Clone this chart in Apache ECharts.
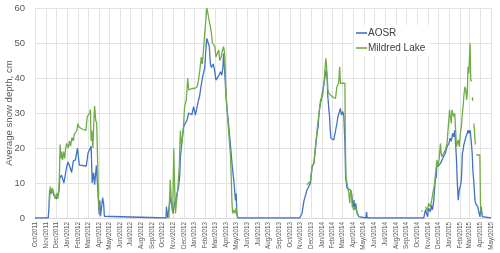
<!DOCTYPE html>
<html>
<head>
<meta charset="utf-8">
<script src="https://cdn.jsdelivr.net/npm/echarts@6/dist/echarts.min.js"></script>
<style>html,body{margin:0;padding:0;background:#fff}#c{width:500px;height:253px}</style>
</head>
<body>
<div id="c"></div>
<script>
var seriesNames = ['AOSR', 'Mildred Lake'];
var monthNames = ['Jan','Feb','Mar','Apr','May','Jun','Jul','Aug','Sep','Oct','Nov','Dec'];
var yTicks = [0, 10, 20, 30, 40, 50, 60];

var aosr = [
['2011-10-01',0],['2011-11-08',0],['2011-11-10',3],['2011-11-12',8],['2011-11-16',7],['2011-11-20',8],['2011-11-24',6.5],['2011-11-27',6],['2011-12-02',5.5],['2011-12-06',5],['2011-12-09',8],['2011-12-11',11.3],['2011-12-16',12.3],['2011-12-20',11],['2011-12-23',10],['2011-12-28',13],['2011-12-31',14.7],['2012-01-04',16],['2012-01-08',16],['2012-01-11',14],['2012-01-14',13],['2012-01-19',16.3],['2012-01-25',16.6],['2012-01-29',17],['2012-01-31',20],['2012-02-03',17],['2012-02-05',15.1],['2012-02-15',15],['2012-02-25',14.8],['2012-03-01',18.5],['2012-03-06',19],['2012-03-10',20.5],['2012-03-13',10],['2012-03-17',13],['2012-03-20',9.5],['2012-03-25',15],['2012-03-28',14.5],['2012-03-31',5],['2012-04-02',1],['2012-04-04',5],['2012-04-06',0.5],['2012-04-09',0],['2012-04-12',5.8],['2012-04-15',4],['2012-04-17',0.5],['2012-04-20',0],
['2012-10-11',0],['2012-10-12',3.2],['2012-10-14',3],['2012-10-16',0],['2012-10-20',0],['2012-10-23',6],['2012-10-26',4],['2012-10-31',1.3],['2012-11-04',4],['2012-11-07',5],['2012-11-11',5.5],['2012-11-16',9],['2012-11-19',12],['2012-11-21',17.5],['2012-11-25',17],['2012-11-30',26],['2012-12-05',27],['2012-12-10',28],['2012-12-15',30],['2012-12-19',30.5],['2012-12-24',29.5],['2012-12-29',31.8],['2013-01-03',29.4],['2013-01-08',31.8],['2013-01-12',33.7],['2013-01-15',34.7],['2013-01-19',37.5],['2013-01-24',40.4],['2013-01-30',43],['2013-02-02',48],['2013-02-05',51.3],['2013-02-08',50.8],['2013-02-12',49],['2013-02-15',44],['2013-02-18',43],['2013-02-23',44],['2013-02-27',42.3],['2013-03-03',39.4],['2013-03-08',39.4],['2013-03-12',40.8],['2013-03-16',41.8],['2013-03-20',40.8],['2013-03-23',43],['2013-03-25',47],['2013-03-28',42],['2013-04-01',34.7],['2013-04-04',30.9],['2013-04-09',26],['2013-04-14',20.4],['2013-04-18',15.6],['2013-04-23',10.9],['2013-04-28',5],['2013-04-30',7],['2013-05-02',1.3],['2013-05-05',0],
['2013-10-29',0],['2013-11-01',0.5],['2013-11-05',1.3],['2013-11-10',4.7],['2013-11-15',5.1],['2013-11-19',8],['2013-11-24',7.5],['2013-11-29',9.9],['2013-12-04',14.7],['2013-12-09',15.6],['2013-12-14',20.4],['2013-12-19',25],['2013-12-21',26],['2013-12-23',29],['2013-12-26',31.8],['2013-12-30',33.7],['2014-01-02',35.6],['2014-01-07',38.5],['2014-01-10',40.4],['2014-01-13',42.3],['2014-01-16',40.4],['2014-01-18',34.7],['2014-01-21',30.9],['2014-01-23',29],['2014-01-25',25],['2014-01-27',22.8],['2014-01-30',22.3],['2014-02-04',22.3],['2014-02-09',22.8],['2014-02-13',27],['2014-02-16',29],['2014-02-19',29.9],['2014-02-23',31.3],['2014-02-26',29.4],['2014-03-02',30.4],['2014-03-05',29],['2014-03-08',21.3],['2014-03-10',11.8],['2014-03-14',8.5],['2014-03-19',8.5],['2014-03-24',8],['2014-03-27',7],['2014-03-31',3.2],['2014-04-03',5.1],['2014-04-05',2.3],['2014-04-08',4.2],['2014-04-12',1.3],['2014-04-17',0.4],['2014-04-22',0],['2014-05-07',0],['2014-05-09',1.8],['2014-05-11',0],
['2014-10-20',0],['2014-10-25',2.3],['2014-10-30',2.3],['2014-10-31',0.4],['2014-11-03',2.8],['2014-11-08',1.8],['2014-11-11',3.7],['2014-11-14',2.3],['2014-11-18',5.1],['2014-11-22',10.9],['2014-11-25',11.8],['2014-11-27',15.6],['2014-11-30',14.7],['2014-12-03',14.7],['2014-12-07',15.6],['2014-12-11',15.6],['2014-12-16',17.5],['2014-12-21',18.5],['2014-12-26',20.4],['2014-12-31',21.3],['2015-01-04',22.8],['2015-01-07',21.9],['2015-01-11',24.2],['2015-01-14',23.2],['2015-01-17',25.1],['2015-01-20',20.4],['2015-01-22',16.6],['2015-01-24',10.9],['2015-01-27',5.1],['2015-01-30',8],['2015-02-02',9],['2015-02-05',10.9],['2015-02-08',18.5],['2015-02-10',19.4],['2015-02-12',20.9],['2015-02-15',20.4],['2015-02-18',23.2],['2015-02-22',24.2],['2015-02-24',25.1],['2015-02-27',24.2],['2015-03-02',25.1],['2015-03-05',22.3],['2015-03-08',18.5],['2015-03-10',13.7],['2015-03-13',9.9],['2015-03-16',5.1],['2015-03-18',4.2],['2015-03-21',4.7],['2015-03-24',3.2],['2015-03-27',1.8],['2015-03-30',0.4],['2015-04-01',1.8],['2015-04-03',3.2],['2015-04-06',0.4],['2015-04-10',0],['2015-05-01',0]
];

var mildred = [
['2011-11-11',4],['2011-11-14',9],['2011-11-17',7],['2011-11-20',8.5],['2011-11-24',7],['2011-11-28',5.5],['2011-12-02',7],['2011-12-05',5.5],['2011-12-08',7],['2011-12-10',12],['2011-12-12',21],['2011-12-14',17],['2011-12-16',19],['2011-12-19',16.5],['2011-12-22',19],['2011-12-25',17],['2011-12-28',20],['2011-12-31',21.3],['2012-01-04',20],['2012-01-08',22],['2012-01-11',20.5],['2012-01-15',23],['2012-01-19',22],['2012-01-22',24],['2012-01-26',23.5],['2012-01-29',25],['2012-02-01',27],['2012-02-04',26],['2012-02-08',26],['2012-02-12',25.5],['2012-02-15',25],['2012-02-24',25],['2012-02-28',29],['2012-03-03',29],['2012-03-06',30],['2012-03-08',31],['2012-03-10',22],['2012-03-12',25],['2012-03-15',20],['2012-03-18',28],['2012-03-20',32],['2012-03-23',28],['2012-03-26',27],['2012-03-29',15],['2012-03-31',5],['2012-04-02',3],['2012-04-04',1],['2012-04-05','-'],
['2012-10-19',0],['2012-10-23',10.9],['2012-10-26',5],['2012-10-30',1.3],['2012-11-02',19.9],['2012-11-04',11],['2012-11-07',1.3],['2012-11-11',1],['2012-11-14',9],['2012-11-18',15],['2012-11-21',25],['2012-11-24',21],['2012-11-26',22],['2012-11-30',26],['2012-12-03',31.8],['2012-12-08',33.7],['2012-12-12',39.9],['2012-12-15',36.6],['2012-12-18',37],['2012-12-24',37],['2013-01-01',37],['2013-01-08',37.5],['2013-01-12',39.4],['2013-01-17',43.2],['2013-01-20',46],['2013-01-23',44],['2013-01-27',49],['2013-01-30',49],['2013-02-02',56.6],['2013-02-05',60],['2013-02-08',58.5],['2013-02-11',56.6],['2013-02-15',54.7],['2013-02-18',52.8],['2013-02-21',50],['2013-02-25',50],['2013-02-28',49],['2013-03-03',46],['2013-03-06',45.5],['2013-03-11',48],['2013-03-14',45],['2013-03-18',46],['2013-03-22',48],['2013-03-25',49],['2013-03-28',47],['2013-04-01',35.6],['2013-04-04',30.9],['2013-04-09',24],['2013-04-14',17.5],['2013-04-16',11],['2013-04-18',4.2],['2013-04-20',1.3],['2013-04-23',2.3],['2013-04-28',1.3],['2013-04-30',3],['2013-05-04',0],['2013-05-05','-'],
['2013-11-19',9.5],['2013-11-24',9],['2013-11-29',10.5],['2013-12-04',15],['2013-12-09',15.6],['2013-12-14',21],['2013-12-19',26],['2013-12-21',26.5],['2013-12-23',29.4],['2013-12-26',31.8],['2013-12-28',33.7],['2013-12-31',34.2],['2014-01-03',35],['2014-01-07',38.5],['2014-01-09',41.3],['2014-01-12',45.6],['2014-01-14',44],['2014-01-16',40.4],['2014-01-18',36.6],['2014-01-21',35.6],['2014-01-25',36],['2014-01-30',34.7],['2014-02-04',34.2],['2014-02-09',34.2],['2014-02-13',37.5],['2014-02-18',38.5],['2014-02-21',43.2],['2014-02-23',38.5],['2014-02-26',39],['2014-03-02',38.5],['2014-03-05',39],['2014-03-08',38.5],['2014-03-09',24],['2014-03-11',11.8],['2014-03-14',9.9],['2014-03-19',7],['2014-03-22',4.2],['2014-03-24',8],['2014-03-27',7],['2014-03-29',3.2],['2014-04-03',2.3],['2014-04-07',3.2],['2014-04-12',1.3],['2014-04-17',0.8],['2014-04-18','-'],
['2014-10-01',1.5],['2014-10-03',1.5],['2014-10-04','-'],['2014-10-13',2],['2014-10-17',2],['2014-10-18','-'],
['2014-10-25',3.2],['2014-10-30',2],['2014-11-03',4.2],['2014-11-08',3.2],['2014-11-12',5.1],['2014-11-15',7],['2014-11-19',9],['2014-11-22',11.8],['2014-11-25',14.7],['2014-11-27',16.6],['2014-11-30',14.7],['2014-12-03',16.6],['2014-12-07',21.3],['2014-12-09',18.5],['2014-12-11',17.5],['2014-12-16',18.5],['2014-12-21',19.4],['2014-12-26',21.3],['2014-12-28',24.2],['2014-12-31',28],['2015-01-02',30.9],['2015-01-04',30.9],['2015-01-07',27],['2015-01-09',30.9],['2015-01-12',30.9],['2015-01-14',29],['2015-01-17',29.9],['2015-01-20',24.2],['2015-01-22',20.4],['2015-01-24',20.4],['2015-01-27',22.3],['2015-01-30',20.4],['2015-02-02',24.2],['2015-02-05',26],['2015-02-08',30],['2015-02-10',31.8],['2015-02-12',34.7],['2015-02-15',37.5],['2015-02-18',36.6],['2015-02-20',33.7],['2015-02-22',35.6],['2015-02-24',43.2],['2015-02-26',41.3],['2015-02-28',45],['2015-03-02',49.9],['2015-03-04',39.4],['2015-03-06',39],['2015-03-07','-'],
['2015-03-08',34.5],['2015-03-10',33.5],['2015-03-11','-'],['2015-03-13',27],['2015-03-17',21],['2015-03-18','-'],
['2015-03-20',18],['2015-03-30',18],['2015-04-01',3],['2015-04-03',1.5],['2015-04-05',1]
];

var chart = echarts.init(document.getElementById('c'), null, {renderer: 'canvas'});
var DAY = 86400000;
chart.setOption({
  animation: false,
  backgroundColor: '#ffffff',
  grid: {left: 35, right: 9, top: 8, bottom: 35, containLabel: false, outerBoundsMode: 'none'},
  legend: {
    data: seriesNames,
    orient: 'vertical',
    left: 354, top: 25,
    icon: 'rect',
    itemWidth: 11, itemHeight: 1.6, itemGap: 5,
    backgroundColor: '#ffffff',
    padding: [3, 4, 3, 2],
    textStyle: {fontFamily: 'Liberation Sans', fontSize: 10, color: '#404040', padding: [0,0,2,-4]}
  },
  xAxis: {
    type: 'time',
    min: '2011-10-01', max: '2015-05-01',
    splitNumber: 43, minInterval: 28 * DAY, maxInterval: 31 * DAY,
    axisLine: {show: true, lineStyle: {color: '#d9d9d9'}},
    axisTick: {show: false},
    splitLine: {show: true, lineStyle: {color: '#e3e3e3', width: 1}},
    axisLabel: {
      rotate: 90, margin: 4, fontSize: 6.3, color: '#595959', fontFamily: 'Liberation Sans',
      showMinLabel: true, showMaxLabel: true, hideOverlap: false,
      formatter: function (v) { var d = new Date(v); return monthNames[d.getMonth()] + '/' + d.getFullYear(); }
    }
  },
  yAxis: {
    type: 'value', min: yTicks[0], max: yTicks[yTicks.length - 1], interval: 10,
    name: 'Average snow depth, cm', nameLocation: 'middle', nameGap: 21, nameRotate: 90,
    nameMoveOverlap: false,
    nameTextStyle: {fontFamily: 'Liberation Sans', fontSize: 9.6, color: '#595959'},
    axisLine: {show: false}, axisTick: {show: false},
    splitLine: {lineStyle: {color: '#e3e3e3', width: 1}},
    axisLabel: {fontFamily: 'Liberation Sans', fontSize: 9.5, color: '#595959', margin: 10}
  },
  series: [
    {name: seriesNames[0], type: 'line', data: aosr, symbol: 'none', connectNulls: false,
     lineStyle: {color: '#4472C4', width: 1.3}, itemStyle: {color: '#4472C4'}},
    {name: seriesNames[1], type: 'line', data: mildred, symbol: 'none', connectNulls: false,
     lineStyle: {color: '#70AD47', width: 1.3}, itemStyle: {color: '#70AD47'}}
  ]
});
</script>
</body>
</html>
